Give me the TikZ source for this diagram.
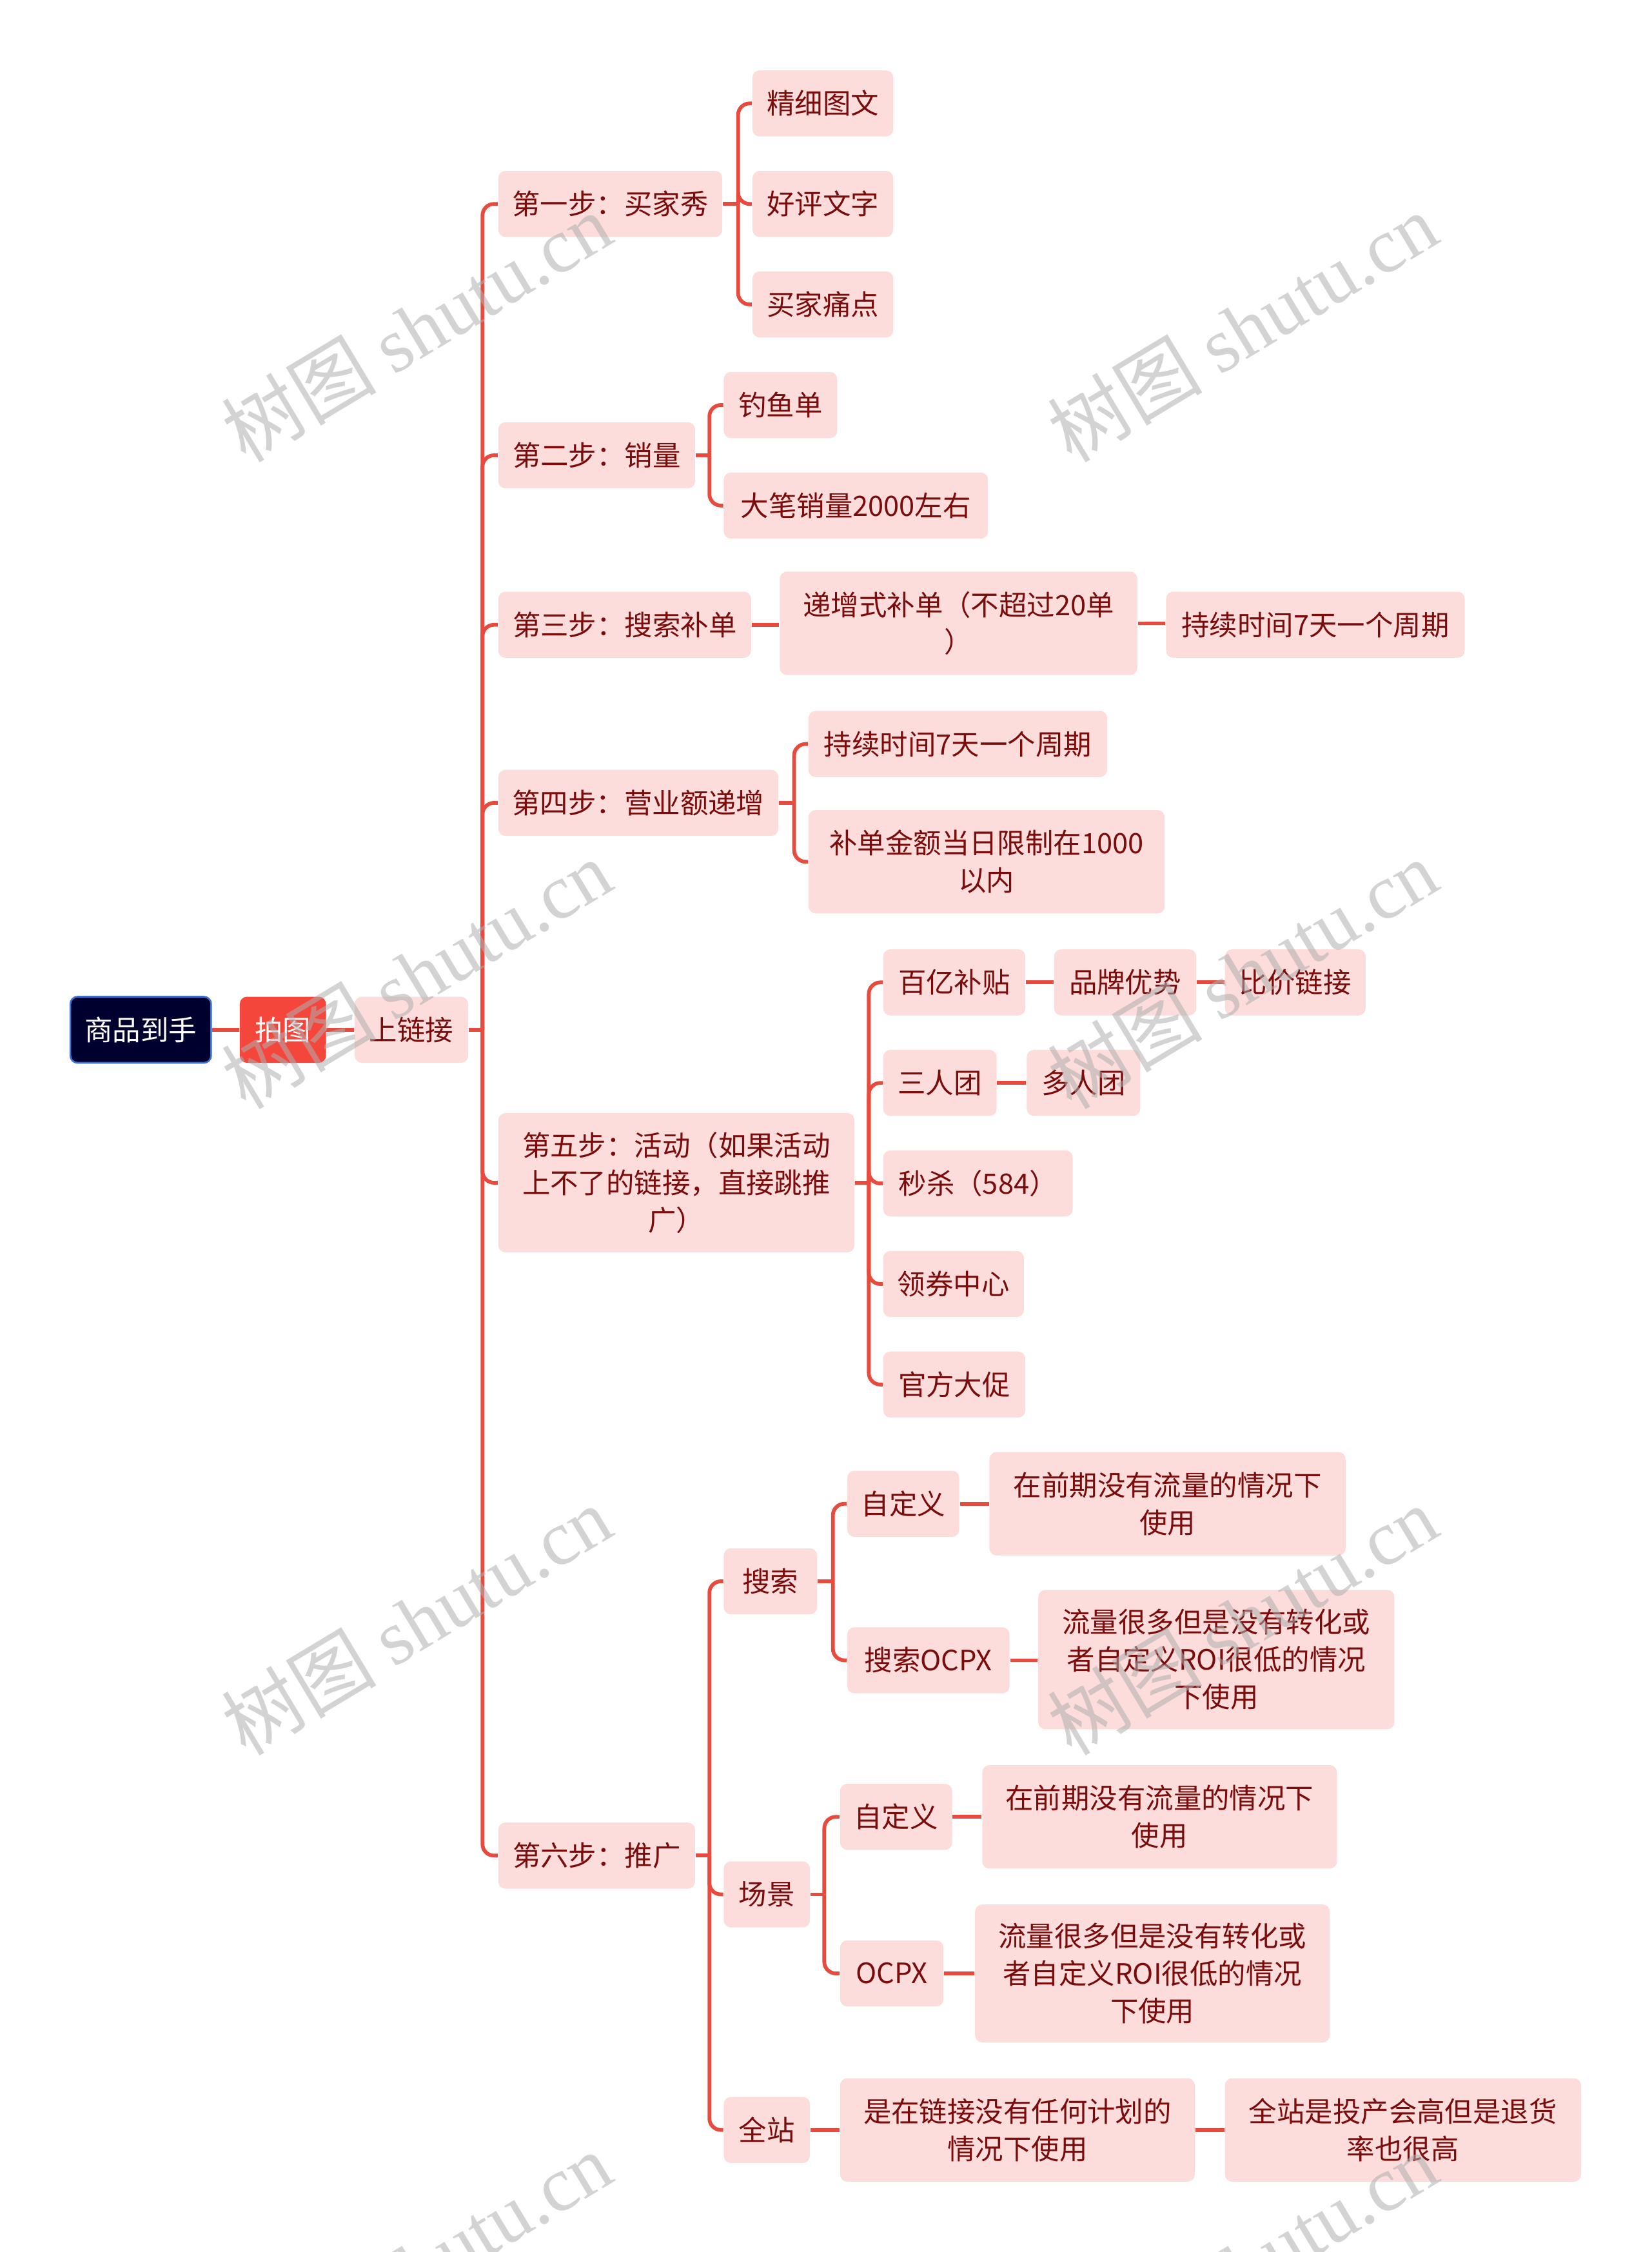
\documentclass[tikz,border=0pt]{standalone}
\usepackage{fontspec}
\setmainfont{Noto Sans CJK SC}
\newfontfamily\wmlatin{Liberation Serif}
\newfontfamily\wmcjk{Noto Sans CJK SC}
\definecolor{pinkbg}{RGB}{253,220,220}
\definecolor{darkred}{RGB}{122,12,12}
\definecolor{linered}{RGB}{232,74,62}
\definecolor{redbox}{RGB}{245,70,60}
\definecolor{navy}{RGB}{0,0,46}
\definecolor{navyedge}{RGB}{60,110,210}
\definecolor{wmgray}{RGB}{175,175,175}
\tikzset{
  box/.style={fill=pinkbg, text=darkred, rounded corners=2.5pt, minimum height=23pt,
    inner sep=0pt, align=center, font=\fontsize{9.75}{13}\selectfont},
  rootbox/.style={box, fill=navy, draw=navyedge, line width=0.6pt, text=white},
  rednode/.style={box, fill=redbox, text=white},
  conn/.style={draw=linered, line width=1.3pt, rounded corners=4pt},
  wmark/.style={text=wmgray, opacity=0.55, rotate=31, font=\fontsize{27}{27}\selectfont, inner sep=0pt}
}
\begin{document}
\begin{tikzpicture}[x=0.5pt, y=-0.5pt]
\useasboundingbox (0,0) rectangle (1150,1568);
\fill[white] (0,0) rectangle (1150,1568);

% root chain
\node[rootbox, minimum width=49pt] (root) at (98,717) {商品到手};
\node[rednode, minimum width=30pt] (pai) at (197,717) {拍图};
\node[box, minimum width=39.5pt] (lian) at (286.5,717) {上链接};

% steps
\node[box, minimum width=78pt] (s1) at (425,142) {第一步：买家秀};
\node[box, minimum width=68.5pt] (s2) at (415.5,317) {第二步：销量};
\node[box, minimum width=88pt] (s3) at (435,435) {第三步：搜索补单};
\node[box, minimum width=97.5pt] (s4) at (444.5,559) {第四步：营业额递增};
\node[box, minimum width=124pt, minimum height=48.5pt] (s5) at (471,823.5) {第五步：活动（如果活动\\上不了的链接，直接跳推\\广）};
\node[box, minimum width=68.5pt] (s6) at (415.5,1292) {第六步：推广};

% step 1 children
\node[box, minimum width=49pt] (k11) at (573,72) {精细图文};
\node[box, minimum width=49pt] (k12) at (573,142) {好评文字};
\node[box, minimum width=49pt] (k13) at (573,212) {买家痛点};

% step 2 children
\node[box, minimum width=39.5pt] (k21) at (543.5,282) {钓鱼单};
\node[box, minimum width=92pt] (k22) at (596,352) {大笔销量2000左右};

% step 3
\node[box, minimum width=124.5pt, minimum height=36pt] (k31) at (667.5,434) {递增式补单（不超过20单\\）};
\node[box, minimum width=104pt] (k32) at (916,435) {持续时间7天一个周期};

% step 4
\node[box, minimum width=104pt] (k41) at (667,518) {持续时间7天一个周期};
\node[box, minimum width=124pt, minimum height=36pt] (k42) at (687,600) {补单金额当日限制在1000\\以内};

% step 5
\node[box, minimum width=49.5pt] (k51) at (664.5,684) {百亿补贴};
\node[box, minimum width=49.5pt] (k51b) at (783.5,684) {品牌优势};
\node[box, minimum width=49pt] (k51c) at (902,684) {比价链接};
\node[box, minimum width=39.5pt] (k52) at (654.5,754) {三人团};
\node[box, minimum width=39.5pt] (k52b) at (754.5,754) {多人团};
\node[box, minimum width=66pt] (k53) at (681,824) {秒杀（584）};
\node[box, minimum width=49pt] (k54) at (664,894) {领券中心};
\node[box, minimum width=49.5pt] (k55) at (664.5,964) {官方大促};

% step 6
\node[box, minimum width=32.5pt] (k61) at (536.5,1101) {搜索};
\node[box, minimum width=30pt] (k62) at (534,1319) {场景};
\node[box, minimum width=30pt] (k63) at (534,1483) {全站};

\node[box, minimum width=39pt] (k611) at (629,1047) {自定义};
\node[box, minimum width=124pt, minimum height=36pt] (k611b) at (813,1047) {在前期没有流量的情况下\\使用};
\node[box, minimum width=56.5pt] (k612) at (646.5,1156) {搜索OCPX};
\node[box, minimum width=124pt, minimum height=48.5pt] (k612b) at (847,1155.5) {流量很多但是没有转化或\\者自定义ROI很低的情况\\下使用};

\node[box, minimum width=39pt] (k621) at (624,1265) {自定义};
\node[box, minimum width=123.5pt, minimum height=36pt] (k621b) at (807.5,1265) {在前期没有流量的情况下\\使用};
\node[box, minimum width=36pt] (k622) at (621,1374) {OCPX};
\node[box, minimum width=123.5pt, minimum height=48pt] (k622b) at (802.5,1374) {流量很多但是没有转化或\\者自定义ROI很低的情况\\下使用};

\node[box, minimum width=123.5pt, minimum height=36pt] (k631) at (708.5,1483) {是在链接没有任何计划的\\情况下使用};
\node[box, minimum width=124pt, minimum height=36pt] (k632) at (977,1483) {全站是投产会高但是退货\\率也很高};

% connectors
\draw[conn] (root.east) -- (pai.west);
\draw[conn] (pai.east) -- (lian.west);
\coordinate (b0) at (336,717);
\draw[conn] (lian.east) -- (b0);
\foreach \s in {s1,s2,s3,s4,s5,s6} \draw[conn] (b0) |- (\s.west);

\coordinate (b1) at (514,142);
\draw[conn] (s1.east) -- (b1);
\foreach \k in {k11,k12,k13} \draw[conn] (b1) |- (\k.west);

\coordinate (b2) at (494,317);
\draw[conn] (s2.east) -- (b2);
\foreach \k in {k21,k22} \draw[conn] (b2) |- (\k.west);

\draw[conn] (s3.east) -- (s3.east -| k31.west);
\draw[conn] (k31.east) -- (k31.east -| k32.west);

\coordinate (b4) at (553,559);
\draw[conn] (s4.east) -- (b4);
\foreach \k in {k41,k42} \draw[conn] (b4) |- (\k.west);

\coordinate (b5) at (605,823.5);
\draw[conn] (s5.east) -- (b5);
\foreach \k in {k51,k52,k53,k54,k55} \draw[conn] (b5) |- (\k.west);
\draw[conn] (k51.east) -- (k51b.west);
\draw[conn] (k51b.east) -- (k51c.west);
\draw[conn] (k52.east) -- (k52b.west);

\coordinate (b6) at (494,1292);
\draw[conn] (s6.east) -- (b6);
\foreach \k in {k61,k62,k63} \draw[conn] (b6) |- (\k.west);

\coordinate (b61) at (580,1101);
\draw[conn] (k61.east) -- (b61);
\foreach \k in {k611,k612} \draw[conn] (b61) |- (\k.west);
\draw[conn] (k611.east) -- (k611.east -| k611b.west);
\draw[conn] (k612.east) -- (k612.east -| k612b.west);

\coordinate (b62) at (574,1319);
\draw[conn] (k62.east) -- (b62);
\foreach \k in {k621,k622} \draw[conn] (b62) |- (\k.west);
\draw[conn] (k621.east) -- (k621.east -| k621b.west);
\draw[conn] (k622.east) -- (k622.east -| k622b.west);

\draw[conn] (k63.east) -- (k631.west);
\draw[conn] (k631.east) -- (k632.west);

% watermarks
\begin{scope}
\clip (0,0) rectangle (1150,1568);
\foreach \wx/\wy [count=\i] in {290/228,865/228,290/678,865/678,290/1128,865/1128,290/1578,865/1578}
  \node[wmark] (wm\i) at (\wx,\wy) {{\wmcjk 树图} {\wmlatin shutu.cn}};
\end{scope}
\end{tikzpicture}
\end{document}
